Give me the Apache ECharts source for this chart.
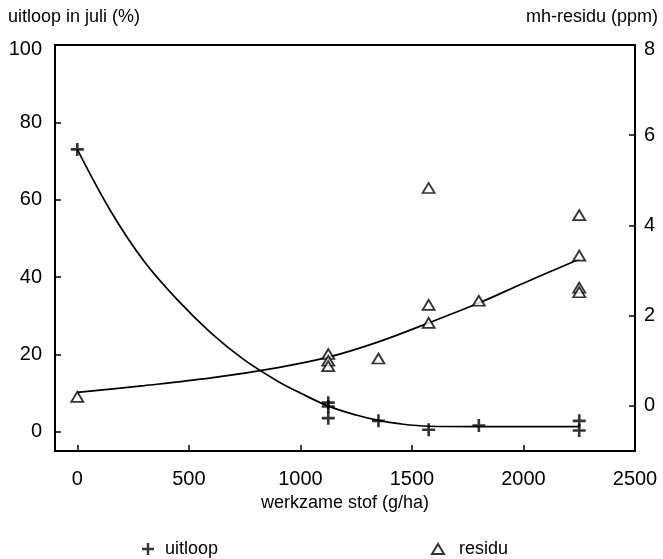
<!DOCTYPE html>
<html>
<head>
<meta charset="utf-8">
<script src="https://cdn.jsdelivr.net/npm/echarts@6/dist/echarts.min.js"></script>
<style>
html,body{margin:0;padding:0;background:#fff;}
#chart{width:663px;height:559px;}
</style>
</head>
<body>
<div id="chart"></div>
<script>
// ---- data ----
var uitloopX = [0, 1125, 1125, 1125, 1350, 1575, 1800, 2250, 2250];
var uitloopY = [73, 7.5, 6.5, 3.5, 2.8, 0.5, 1.6, 2.8, 0.3];

var residuX = [0, 1125, 1125, 1125, 1350, 1575, 1575, 1575, 1800, 2250, 2250, 2250, 2250];
var residuY = [0.2, 1.15, 1.0, 0.88, 1.05, 4.83, 2.24, 1.84, 2.33, 4.23, 3.33, 2.62, 2.52];

// fitted curves
var uitloopCurveX = [0, 150, 300, 450, 600, 750, 900, 1000, 1125, 1250, 1350, 1450, 1575, 1800, 2250];
var uitloopCurveY = [73, 57, 44, 34, 25.5, 18.5, 13, 10, 6.6, 4.3, 2.9, 2.0, 1.4, 1.3, 1.3];

var residuCurveX = [0, 300, 600, 900, 1125, 1350, 1575, 1800, 2000, 2250];
var residuCurveY = [0.3, 0.45, 0.62, 0.85, 1.08, 1.42, 1.84, 2.28, 2.72, 3.25];

var xTicks = [0, 500, 1000, 1500, 2000, 2500];
var leftTicks = [0, 20, 40, 60, 80, 100];
var rightTicks = [0, 2, 4, 6, 8];

var xName = 'werkzame stof (g/ha)';
var leftName = 'uitloop in juli (%)';
var rightName = 'mh-residu (ppm)';
var seriesNames = ['uitloop', 'residu'];

function pairs(xs, ys) { return xs.map(function (x, i) { return [x, ys[i]]; }); }
function plain(v) { return String(v); }
function topShift(maxV) {
  return function (v) { return v === maxV ? '{t|' + v + '}' : String(v); };
}
var shiftRich = {t: {fontSize: 20, color: '#000', padding: [9, 0, 0, 0]}};

var plusPath = 'path://M4.8,0 L7.2,0 L7.2,4.8 L12,4.8 L12,7.2 L7.2,7.2 L7.2,12 L4.8,12 L4.8,7.2 L0,7.2 L0,4.8 L4.8,4.8 Z';
var FONT = 'Liberation Sans, Arial, Helvetica, sans-serif';

var chart = echarts.init(document.getElementById('chart'), null, {renderer: 'canvas'});
var axisLine = {show: true, onZero: false, lineStyle: {color: '#000', width: 1.8}};
var tickStyle = {lineStyle: {color: '#000', width: 1.5}};

var option = {
  backgroundColor: '#fff',
  animation: false,
  textStyle: {fontFamily: FONT, color: '#000'},
  grid: {left: 55, right: 28, top: 45, bottom: 108, show: true, borderColor: '#000', borderWidth: 1.8, backgroundColor: 'transparent'},
  xAxis: {
    type: 'value', min: -100, max: 2500,
    name: xName, nameLocation: 'middle', nameGap: 41,
    nameTextStyle: {fontSize: 18, color: '#000', fontFamily: FONT},
    axisLine: axisLine,
    axisTick: Object.assign({show: true, inside: true, length: 6, customValues: xTicks}, tickStyle),
    axisLabel: {customValues: xTicks, formatter: plain, fontSize: 20, color: '#000', margin: 18, fontFamily: FONT},
    splitLine: {show: false}
  },
  yAxis: [{
    type: 'value', min: -5, max: 100, position: 'left',
    axisLine: axisLine,
    axisTick: Object.assign({show: true, inside: true, length: 6, customValues: leftTicks}, tickStyle),
    axisLabel: {customValues: leftTicks, formatter: topShift(100), rich: shiftRich, fontSize: 20, color: '#000', margin: 13, fontFamily: FONT},
    splitLine: {show: false}
  }, {
    type: 'value', min: -1, max: 8, position: 'right',
    axisLine: axisLine,
    axisTick: Object.assign({show: true, inside: true, length: 6, customValues: rightTicks}, tickStyle),
    axisLabel: {customValues: rightTicks, formatter: topShift(8), rich: shiftRich, fontSize: 20, color: '#000', margin: 9, fontFamily: FONT},
    splitLine: {show: false}
  }],
  legend: [{
    data: [{name: seriesNames[0], icon: plusPath}],
    left: 137, top: 535, itemWidth: 12, itemHeight: 12, itemGap: 10,
    textStyle: {fontSize: 18, color: '#000', fontFamily: FONT, padding: [0, 0, 0, 6]},
    selectedMode: false
  }, {
    data: [{name: seriesNames[1], icon: 'triangle'}],
    left: 426, top: 535, itemWidth: 12, itemHeight: 10, itemGap: 10,
    textStyle: {fontSize: 18, color: '#000', fontFamily: FONT, padding: [0, 0, 0, 10]},
    selectedMode: false
  }],
  graphic: [
    {type: 'text', left: 8, top: 8, style: {text: leftName, font: '18px ' + FONT, fill: '#000'}},
    {type: 'text', right: 5, top: 8, style: {text: rightName, font: '18px ' + FONT, fill: '#000'}}
  ],
  series: [{
    name: 'uitloop-curve', type: 'line', yAxisIndex: 0, data: pairs(uitloopCurveX, uitloopCurveY),
    smooth: 0.35, showSymbol: false, symbol: 'none', lineStyle: {color: '#000', width: 1.7}, silent: true, z: 2
  }, {
    name: 'residu-curve', type: 'line', yAxisIndex: 1, data: pairs(residuCurveX, residuCurveY),
    smooth: 0.35, showSymbol: false, symbol: 'none', lineStyle: {color: '#000', width: 1.7}, silent: true, z: 2
  }, {
    name: seriesNames[0], type: 'scatter', yAxisIndex: 0, data: pairs(uitloopX, uitloopY),
    symbol: plusPath, symbolSize: 13, itemStyle: {color: '#000'}, z: 4
  }, {
    name: seriesNames[1], type: 'scatter', yAxisIndex: 1, data: pairs(residuX, residuY),
    symbol: 'triangle', symbolSize: [12, 10], itemStyle: {color: '#fff', borderColor: '#000', borderWidth: 1.8}, z: 5
  }]
};
chart.setOption(option);
</script>
</body>
</html>
